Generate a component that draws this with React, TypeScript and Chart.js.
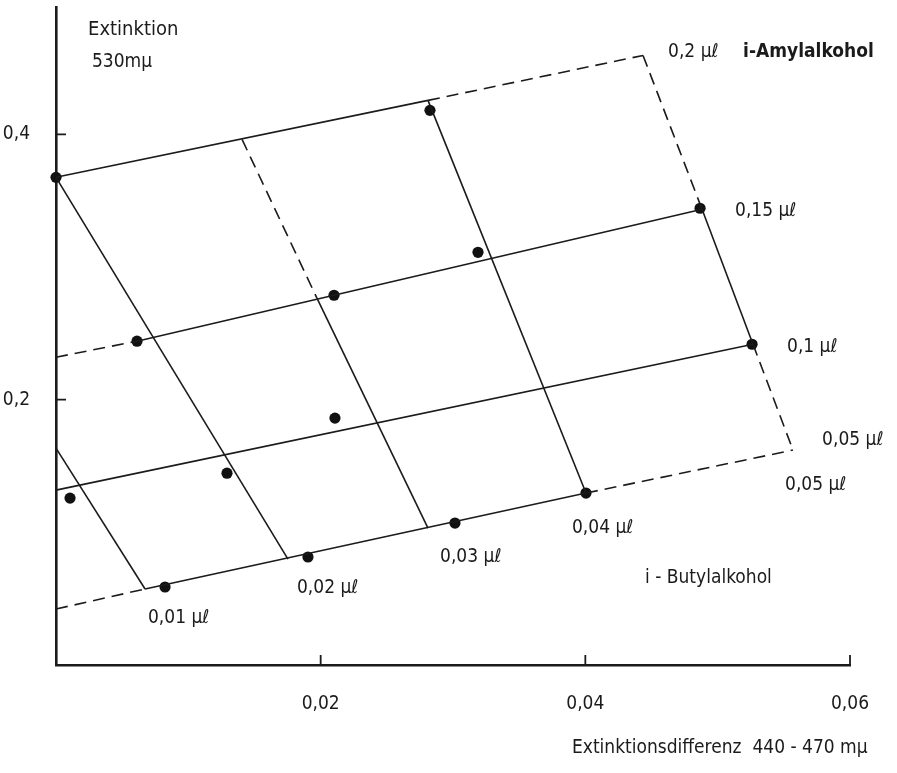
import React, { useEffect, useRef } from "react";
import { Chart, registerables } from "chart.js";

Chart.register(...registerables);

// ---- axis ticks ----
const xTicks = [0.02, 0.04, 0.06];
const xTickLabels = ["0,02", "0,04", "0,06"];
const yTicks = [0.2, 0.4];
const yTickLabels = ["0,2", "0,4"];

// ---- measured points ----
const dotX = [0, 0.02826, 0.04867, 0.03189, 0.02101, 0.00612, 0.0526, 0.02108, 0.01292, 0.00106, 0.00824, 0.01904, 0.03015, 0.04005];
const dotY = [0.3676, 0.4181, 0.3443, 0.3111, 0.2787, 0.2441, 0.2418, 0.1861, 0.1446, 0.1258, 0.0588, 0.0814, 0.107, 0.1296];

// ---- i-Amylalkohol lines (nearly horizontal) ----
const amyl005X = [0, 0.00673, 0.04005, 0.05569];
const amyl005Y = [0.0422, 0.0573, 0.1296, 0.162];
const amyl005Dash = [true, false, true];

const amyl010X = [0, 0.05267];
const amyl010Y = [0.1318, 0.2418];
const amyl010Dash = [false];

const amyl015X = [0, 0.00612, 0.04882];
const amyl015Y = [0.232, 0.2441, 0.3435];
const amyl015Dash = [true, false];

const amyl020X = [0, 0.02811, 0.04436];
const amyl020Y = [0.3676, 0.4256, 0.4595];
const amyl020Dash = [false, true];

// ---- i-Butylalkohol lines (slanted) ----
const butyl001X = [0, 0.00673];
const butyl001Y = [0.1635, 0.0573];
const butyl001Dash = [false];

const butyl002X = [0, 0.01753];
const butyl002Y = [0.3676, 0.0798];
const butyl002Dash = [false];

const butyl003X = [0.01406, 0.01972, 0.02811];
const butyl003Y = [0.3962, 0.2765, 0.1032];
const butyl003Dash = [true, false];

const butyl004X = [0.02811, 0.04005];
const butyl004Y = [0.4256, 0.1296];
const butyl004Dash = [false];

const butyl005X = [0.04436, 0.04882, 0.05267, 0.05569];
const butyl005Y = [0.4595, 0.3435, 0.2418, 0.162];
const butyl005Dash = [true, false, true];

// ---- text annotations (anchored in data coordinates, left aligned, vertically centred) ----
const noteTexts = [
  "0,2 μℓ",
  "i-Amylalkohol",
  "0,15 μℓ",
  "0,1 μℓ",
  "0,05 μℓ",
  "0,05 μℓ",
  "0,04 μℓ",
  "0,03 μℓ",
  "0,02 μℓ",
  "0,01 μℓ",
  "i - Butylalkohol",
  "Extinktion",
  "530mμ",
  "Extinktionsdifferenz  440 - 470 mμ",
];
const noteX = [0.04625, 0.05192, 0.05131, 0.05524, 0.05789, 0.05509, 0.03899, 0.02902, 0.01821, 0.00695, 0.04451, 0.00242, 0.00272, 0.03899];
const noteY = [0.4618, 0.4618, 0.342, 0.2395, 0.1695, 0.1356, 0.1032, 0.0814, 0.058, 0.0354, 0.0655, 0.4791, 0.4542, -0.0625];

// text styles for the annotations above
const noteBold = [false, true, false, false, false, false, false, false, false, false, false, false, false, false];
const noteSize = [19, 19, 19, 19, 19, 19, 19, 19, 19, 19, 19, 20, 19, 19];

const FONT = '"DejaVu Sans Condensed", "DejaVu Sans", sans-serif';
const INK = "#1b1b1b";
const DASH = [12, 7];

function lineDataset(xs: number[], ys: number[], dash: boolean[]) {
  return {
    type: "scatter" as const,
    data: xs.map((x, i) => ({ x, y: ys[i] })),
    showLine: true,
    borderColor: INK,
    borderWidth: 1.6,
    pointRadius: 0,
    pointHoverRadius: 0,
    fill: false,
    tension: 0,
    clip: false as any,
    segment: {
      borderDash: (ctx: any) => (dash[ctx.p0DataIndex] ? DASH : undefined),
    },
  };
}

const innerTicksPlugin = {
  id: "innerTicks",
  afterDraw(chart: any) {
    const { ctx, scales } = chart;
    const xs = scales.x;
    const ys = scales.y;
    ctx.save();
    ctx.strokeStyle = INK;
    ctx.lineWidth = 1.8;
    ctx.beginPath();
    xTicks.forEach((v) => {
      const px = xs.getPixelForValue(v);
      ctx.moveTo(px, ys.bottom);
      ctx.lineTo(px, ys.bottom - 10);
    });
    yTicks.forEach((v) => {
      const py = ys.getPixelForValue(v);
      ctx.moveTo(xs.left, py);
      ctx.lineTo(xs.left + 10, py);
    });
    ctx.stroke();
    ctx.restore();
  },
};

const notesPlugin = {
  id: "notes",
  afterDraw(chart: any) {
    const { ctx, scales } = chart;
    ctx.save();
    ctx.fillStyle = INK;
    ctx.textAlign = "left";
    ctx.textBaseline = "middle";
    noteTexts.forEach((t, i) => {
      ctx.font = `${noteBold[i] ? "bold " : ""}${noteSize[i]}px ${FONT}`;
      ctx.fillText(t, scales.x.getPixelForValue(noteX[i]), scales.y.getPixelForValue(noteY[i]));
    });
    ctx.restore();
  },
};

function zeroPadding(s: any) {
  s.paddingTop = 0;
  s.paddingBottom = 0;
  s.paddingLeft = 0;
  s.paddingRight = 0;
}

export default function App() {
  const ref = useRef<HTMLCanvasElement | null>(null);

  useEffect(() => {
    if (!ref.current) return;
    const chart = new Chart(ref.current, {
      type: "scatter",
      data: {
        datasets: [
          lineDataset(amyl005X, amyl005Y, amyl005Dash),
          lineDataset(amyl010X, amyl010Y, amyl010Dash),
          lineDataset(amyl015X, amyl015Y, amyl015Dash),
          lineDataset(amyl020X, amyl020Y, amyl020Dash),
          lineDataset(butyl001X, butyl001Y, butyl001Dash),
          lineDataset(butyl002X, butyl002Y, butyl002Dash),
          lineDataset(butyl003X, butyl003Y, butyl003Dash),
          lineDataset(butyl004X, butyl004Y, butyl004Dash),
          lineDataset(butyl005X, butyl005Y, butyl005Dash),
          {
            type: "scatter",
            data: dotX.map((x, i) => ({ x, y: dotY[i] })),
            showLine: false,
            pointRadius: 5.6,
            pointHoverRadius: 5.6,
            pointBackgroundColor: "#111",
            pointBorderWidth: 0,
            clip: false as any,
          },
        ] as any,
      },
      options: {
        animation: false,
        responsive: true,
        maintainAspectRatio: false,
        events: [],
        layout: { padding: { left: 0, top: 7, right: 47, bottom: 0 } },
        plugins: { legend: { display: false }, tooltip: { enabled: false } },
        scales: {
          x: {
            type: "linear",
            min: 0,
            max: 0.06,
            afterBuildTicks: (s: any) => {
              s.ticks = xTicks.map((v) => ({ value: v }));
            },
            afterFit: (s: any) => {
              s.height = 108;
              zeroPadding(s);
            },
            ticks: {
              callback: (v: any) => xTickLabels[xTicks.indexOf(Number(v))] ?? "",
              font: { family: FONT, size: 19 },
              color: INK,
              padding: 28,
              maxRotation: 0,
              autoSkip: false,
            },
            grid: { display: false, drawTicks: false },
            border: { display: true, color: INK, width: 2.6 },
          },
          y: {
            type: "linear",
            min: 0,
            max: 0.496,
            afterBuildTicks: (s: any) => {
              s.ticks = yTicks.map((v) => ({ value: v }));
            },
            afterFit: (s: any) => {
              s.width = 56;
              zeroPadding(s);
            },
            ticks: {
              callback: (v: any) => yTickLabels[yTicks.indexOf(Number(v))] ?? "",
              font: { family: FONT, size: 19 },
              color: INK,
              padding: 26,
              autoSkip: false,
            },
            grid: { display: false, drawTicks: false },
            border: { display: true, color: INK, width: 2.6 },
          },
        },
      },
      plugins: [innerTicksPlugin, notesPlugin],
    });
    return () => chart.destroy();
  }, []);

  return (
    <div style={{ position: "absolute", left: 0, top: 0, width: 897, height: 773, background: "#fff" }}>
      <canvas ref={ref} />
    </div>
  );
}
